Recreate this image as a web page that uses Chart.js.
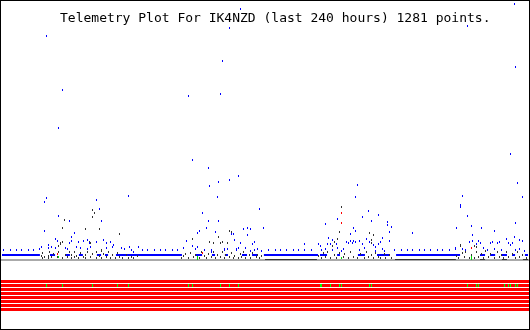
<!DOCTYPE html>
<html>
<head>
<meta charset="utf-8">
<title>Telemetry Plot For IK4NZD</title>
<script src="https://cdn.jsdelivr.net/npm/chart.js@4"></script>
<style>
    body { margin: 0; background: #fff; }
    #plot { display: block; }
</style>
</head>
<body>
<canvas id="plot" width="530" height="330"></canvas>
<script>
const titleText = "Telemetry Plot For IK4NZD (last 240 hours) 1281 points.";
const hourRange = [0, 240];

// flat levels (value) and the hour spans where each channel sits on it
const floorLevel = 2;
const blueLevel = 7;
const darkLevel = 2.5;
const blueRowLevel = 12;
const blueLevelHours = [[0, 17.3], [21.9, 24.2], [29.2, 31.0], [35.1, 36.9], [43.3, 45.2], [47.0, 48.4],
    [52.0, 82.1], [88.1, 91.3], [95.8, 97.2], [101.7, 103.1], [109.5, 111.8], [114.1, 116.8],
    [119.5, 144.2], [145.1, 148.3], [152.9, 154.2], [162.4, 165.6], [171.1, 177.0], [179.8, 209.0],
    [218.1, 220.4], [222.7, 225.0], [228.1, 230.4], [232.7, 234.1], [238.6, 240]];
const darkLevelHours = [[120.0, 143.7], [179.3, 207.1], [218.1, 220.4], [228.1, 230.4], [237.7, 240]];
const blueRowHours = [0.9, 3.7, 6.4, 9.1, 11.9, 14.6, 63.9, 66.6, 69.4, 72.1, 74.8, 77.6, 80.3,
    121.8, 124.6, 127.3, 130.0, 132.8, 135.5, 138.2, 141.0,
    179.3, 182.1, 184.8, 187.5, 190.3, 193.0, 195.7, 198.5, 201.2, 204.0];

// [hour, value]
const bluePoints = [
    [20.5, 226], [27.4, 172], [25.6, 134], [108.6, 253], [104.0, 234], [100.4, 201], [84.9, 166],
    [99.5, 168], [87.1, 102], [94.4, 94], [108.1, 86], [103.6, 82], [99.0, 80], [94.9, 76],
    [212.2, 236], [234.0, 258], [234.5, 195], [231.8, 108], [162.0, 77], [235.0, 79], [57.5, 66],
    [19.2, 60], [20.1, 64], [42.9, 62], [44.7, 53], [26.0, 46], [30.6, 41], [45.2, 41], [19.6, 31],
    [32.9, 29], [31.5, 25], [24.6, 23], [25.1, 21], [31.9, 21], [31.0, 19], [34.7, 20], [37.4, 21],
    [39.2, 22], [39.7, 19], [42.9, 20], [46.5, 22], [47.5, 19], [49.3, 20], [51.1, 17], [21.4, 17],
    [21.0, 14], [24.2, 14], [17.8, 15], [17.3, 13], [22.4, 15], [29.2, 14], [29.7, 13], [33.8, 15],
    [35.6, 14], [38.8, 13], [40.2, 15], [47.9, 14], [50.2, 15], [54.3, 14], [55.7, 13], [58.4, 15],
    [59.3, 12], [60.2, 10], [62.1, 15],
    [98.1, 65], [91.3, 49], [94.0, 41], [98.6, 41], [93.1, 34], [89.9, 31], [89.0, 29], [97.6, 30],
    [84.0, 21], [117.7, 53], [119.1, 34], [110.0, 33], [111.8, 34], [113.6, 33], [112.2, 27],
    [104.9, 28], [105.4, 28], [105.9, 22], [115.0, 20], [114.5, 18], [109.0, 19],
    [83.0, 14], [86.7, 16], [88.5, 13], [89.4, 15], [92.2, 12], [95.4, 12], [95.8, 10], [101.3, 13],
    [101.7, 12], [102.7, 13], [106.8, 13], [107.2, 12], [107.7, 14], [111.3, 14], [113.2, 11],
    [115.4, 12], [116.8, 13], [118.2, 11],
    [147.4, 38], [153.3, 43], [158.8, 28], [160.2, 34], [161.1, 65], [149.2, 24], [151.0, 22],
    [152.4, 18], [137.8, 18], [144.6, 18], [145.1, 16], [148.7, 18], [149.7, 18], [157.4, 20],
    [158.3, 19], [159.7, 19], [160.6, 21], [161.5, 20], [162.9, 21], [159.2, 21], [164.7, 18],
    [166.5, 23], [167.9, 20], [169.3, 17], [170.2, 15], [170.6, 11], [172.0, 18], [172.5, 20],
    [145.9, 12], [147.8, 13], [151.0, 12], [152.9, 14], [154.7, 11], [156.0, 13], [163.3, 12],
    [165.6, 14], [173.4, 13], [174.7, 11],
    [164.3, 45], [167.0, 51], [168.8, 41], [172.0, 47], [175.7, 40], [176.1, 37], [177.5, 35],
    [177.0, 30], [173.8, 24], [176.6, 21], [161.5, 31], [187.5, 29],
    [207.6, 34], [209.0, 57], [209.4, 55], [209.9, 66], [212.6, 46], [214.4, 36], [214.9, 27],
    [218.6, 34], [224.5, 31], [234.1, 39], [237.7, 65], [234.0, 25], [236.3, 22], [237.3, 21],
    [230.0, 23], [230.9, 19], [233.1, 19], [232.2, 17], [222.7, 19], [223.6, 20], [225.9, 19],
    [226.8, 20], [213.1, 20], [214.9, 21], [216.7, 18], [217.2, 21], [218.1, 19], [219.9, 14],
    [221.7, 12], [224.9, 13], [228.1, 12], [234.1, 12], [236.3, 13], [238.6, 11], [210.3, 13],
    [211.7, 12], [206.7, 13], [207.1, 14]
];
const darkPoints = [
    [41.1, 52], [42.0, 49], [41.5, 45], [28.3, 42], [27.8, 34], [37.9, 33], [44.3, 33], [53.4, 28],
    [27.4, 20], [26.9, 19], [26.5, 18], [25.6, 16], [39.7, 20], [40.6, 19], [45.6, 11], [45.2, 12],
    [104.0, 31], [104.5, 30], [104.9, 29], [99.0, 25], [100.4, 20], [99.9, 19], [103.1, 19],
    [86.7, 23], [94.9, 20], [96.3, 19],
    [154.7, 55], [154.2, 30], [153.3, 23], [151.9, 20], [151.0, 16],
    [167.5, 29], [169.7, 27], [168.4, 22], [168.8, 19],
    [209.0, 17], [209.4, 16], [215.8, 16], [216.3, 15],
    [17.8, 6], [18.3, 4], [18.7, 9], [19.2, 5], [21.0, 6], [21.4, 4], [21.9, 10], [22.8, 5],
    [23.3, 8], [25.1, 5], [25.6, 10], [27.8, 4], [29.2, 7], [29.7, 5], [30.6, 10], [31.5, 4],
    [31.9, 7], [32.9, 5], [33.3, 10], [34.2, 6], [35.1, 4], [36.0, 9], [37.0, 5], [37.9, 7],
    [38.3, 4], [39.2, 10], [40.6, 5], [41.5, 8], [42.9, 4], [43.3, 10], [44.3, 6], [45.6, 4],
    [46.1, 8], [47.5, 5], [48.4, 10], [49.3, 4], [50.2, 7], [51.6, 4], [52.5, 9], [53.4, 5],
    [55.2, 4], [56.6, 7], [57.5, 4], [58.9, 5], [60.2, 4], [61.6, 6],
    [81.7, 4], [82.6, 6], [83.5, 8], [85.3, 4], [86.2, 9], [87.6, 5], [88.5, 7], [90.3, 4],
    [90.8, 10], [92.2, 6], [93.5, 4], [94.4, 8], [95.4, 5], [96.7, 10], [97.2, 4], [98.1, 7],
    [99.5, 5], [100.8, 10], [101.3, 4], [102.2, 7], [103.6, 5], [104.5, 9], [105.4, 4], [106.3, 6],
    [107.7, 4], [108.6, 8], [109.5, 5], [110.4, 10], [111.3, 4], [112.7, 7], [113.6, 4], [114.5, 9],
    [115.9, 5], [116.8, 7], [117.7, 4], [118.6, 6],
    [144.2, 6], [145.6, 4], [146.5, 9], [147.8, 5], [148.7, 10], [150.1, 4], [151.5, 7], [152.4, 4],
    [153.8, 9], [155.6, 5], [156.5, 8], [157.9, 4], [159.2, 10], [160.2, 5], [162.4, 4], [163.8, 8],
    [165.2, 4], [166.1, 10], [167.0, 5], [168.4, 7], [169.3, 4], [170.6, 9], [171.6, 5], [172.9, 4],
    [174.3, 8], [175.2, 4], [176.6, 7], [177.9, 4],
    [207.6, 6], [208.5, 4], [209.9, 9], [210.8, 5], [211.7, 10], [213.1, 4], [214.0, 7], [215.4, 4],
    [216.3, 10], [217.6, 5], [218.6, 8], [219.9, 4], [220.8, 11], [222.2, 5], [223.1, 8], [224.5, 4],
    [225.9, 10], [226.8, 5], [228.1, 7], [229.0, 4], [230.4, 10], [231.3, 5], [232.7, 8], [234.1, 4],
    [235.4, 10], [236.3, 5], [237.7, 7], [239.1, 4]
];
const redPoints = [[25.1, 8], [91.3, 9], [154.7, 49], [155.1, 39], [214.4, 14]];
const greenPoints = [[26.0, 5], [89.4, 5], [89.4, 3], [155.1, 4], [214.4, 5], [214.0, 3]];

// status bits: 8 rows, all off (red) except these hours on bit 1 (green)
const bitCount = 8;
const bitOneHours = [20.5, 27.4, 41.1, 41.5, 52.9, 57.5, 84.9, 85.3, 86.7, 99.5, 99.9, 104.0, 108.1,
    145.1, 145.6, 149.7, 154.2, 154.7, 167.9, 168.4, 212.2, 216.7, 217.2, 217.6, 229.5, 231.3,
    232.2, 234.5, 235.0];

document.addEventListener("DOMContentLoaded", function () {
    function toXY(list) {
        return list.map((p) => ({ x: p[0], y: p[1] }));
    }

    function levelLine(spans, level) {
        const out = [];
        spans.forEach((s) => {
            out.push({ x: s[0], y: level }, { x: s[1], y: level }, { x: s[1], y: null });
        });
        return out;
    }

    // small solid block used as point style, so marks stay crisp like the original
    function mark(color, w, h) {
        const c = document.createElement("canvas");
        c.width = w;
        c.height = h;
        const g = c.getContext("2d");
        g.fillStyle = color;
        g.fillRect(0, 0, w, h);
        return c;
    }

    function dots(label, data, color, axis, h) {
        return {
            label: label,
            data: data,
            yAxisID: axis || "y",
            showLine: false,
            pointStyle: mark(color, 1, h || 2),
            pointRadius: 1,
            borderColor: color,
            backgroundColor: color,
        };
    }

    function flat(label, data, color, width, axis) {
        return {
            label: label,
            data: data,
            yAxisID: axis || "y",
            showLine: true,
            spanGaps: false,
            pointRadius: 0,
            borderColor: color,
            borderWidth: width,
            clip: false,
        };
    }

    const datasets = [
        dots("red", toXY(redPoints), "#ff0000"),
        dots("green", toXY(greenPoints), "#00e000"),
        dots("blue", toXY(bluePoints), "#0000ff"),
        dots("dark", toXY(darkPoints), "#333333"),
        dots("blue row", blueRowHours.map((h) => ({ x: h, y: blueRowLevel })), "#0000ff"),
        flat("blue level", levelLine(blueLevelHours, blueLevel), "#0000ff", 2),
        flat("dark level", levelLine(darkLevelHours, darkLevel), "#333333", 1),
        flat("floor", [{ x: hourRange[0] - 1, y: floorLevel }, { x: hourRange[1] + 1, y: floorLevel }], "#aaaaaa", 2),
        dots("bit on", bitOneHours.map((h) => ({ x: h, y: 1 })), "#00ff00", "bits", 3),
    ];

    for (let k = 0; k < bitCount; k++) {
        datasets.push(flat("bit " + k, [{ x: hourRange[0] - 1, y: k }, { x: hourRange[1] + 1, y: k }], "#ff0000", 3, "bits"));
    }

    const framePlugin = {
        id: "plotFrame",
        beforeDatasetsDraw(chart) {
            chart.ctx.imageSmoothingEnabled = false;
        },
        afterDraw(chart) {
            const ctx = chart.ctx;
            ctx.save();
            ctx.font = '13px "DejaVu Sans Mono", monospace';
            ctx.fillStyle = "#000";
            ctx.textBaseline = "alphabetic";
            ctx.fillText(titleText, 60, 22);
            ctx.strokeStyle = "#000";
            ctx.lineWidth = 1;
            ctx.strokeRect(0.5, 0.5, chart.width - 1, chart.height - 1);
            ctx.restore();
        },
    };

    new Chart(document.getElementById("plot"), {
        type: "scatter",
        data: { datasets: datasets },
        options: {
            responsive: false,
            animation: false,
            devicePixelRatio: 1,
            layout: { autoPadding: false, padding: { left: 2, right: 2, top: 1, bottom: 1 } },
            plugins: { legend: { display: false }, tooltip: { enabled: false } },
            events: [],
            scales: {
                x: { type: "linear", min: hourRange[0], max: hourRange[1], display: false },
                y: { type: "linear", min: -67, max: 261, display: false },
                bits: { type: "linear", min: -70.125, max: 11.875, reverse: true, display: false },
            },
        },
        plugins: [framePlugin],
    });
});
</script>
</body>
</html>
